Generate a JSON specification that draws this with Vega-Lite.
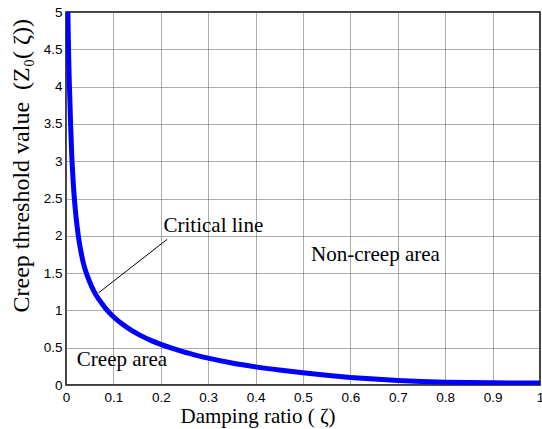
{
  "$schema": "https://vega.github.io/schema/vega-lite/v6.json",
  "width": 474,
  "height": 373,
  "autosize": {"type": "none"},
  "padding": {"left": 66, "top": 12, "right": 2, "bottom": 44},
  "background": "white",
  "config": {
    "view": {"stroke": "black", "strokeWidth": 1.5},
    "axis": {
      "domain": false,
      "grid": true,
      "gridColor": "#5a5a5a",
      "gridDash": [1, 1],
      "gridWidth": 1,
      "ticks": false,
      "labelFont": "Liberation Sans",
      "labelFontSize": 13.5,
      "labelColor": "black",
      "labelOverlap": false,
      "labelFlush": false,
      "titleFont": "Liberation Serif",
      "titleFontSize": 21,
      "titleFontWeight": "normal",
      "titleColor": "black"
    }
  },
  "datasets": {
    "curve": [
      {"zeta": 0.004, "z0": 5.0},
      {"zeta": 0.0045, "z0": 4.8},
      {"zeta": 0.005, "z0": 4.6},
      {"zeta": 0.006, "z0": 4.3},
      {"zeta": 0.007, "z0": 4.05},
      {"zeta": 0.008, "z0": 3.85},
      {"zeta": 0.009, "z0": 3.65},
      {"zeta": 0.01, "z0": 3.45},
      {"zeta": 0.012, "z0": 3.1},
      {"zeta": 0.014, "z0": 2.85},
      {"zeta": 0.017, "z0": 2.55},
      {"zeta": 0.02, "z0": 2.33},
      {"zeta": 0.023, "z0": 2.15},
      {"zeta": 0.026, "z0": 2.0},
      {"zeta": 0.03, "z0": 1.84},
      {"zeta": 0.034, "z0": 1.71},
      {"zeta": 0.038, "z0": 1.6},
      {"zeta": 0.043, "z0": 1.5},
      {"zeta": 0.05, "z0": 1.38},
      {"zeta": 0.058, "z0": 1.27},
      {"zeta": 0.066, "z0": 1.18},
      {"zeta": 0.076, "z0": 1.09},
      {"zeta": 0.087, "z0": 1.0},
      {"zeta": 0.1, "z0": 0.915},
      {"zeta": 0.12, "z0": 0.81},
      {"zeta": 0.14, "z0": 0.725},
      {"zeta": 0.16, "z0": 0.655},
      {"zeta": 0.18, "z0": 0.595},
      {"zeta": 0.2, "z0": 0.545},
      {"zeta": 0.225, "z0": 0.49},
      {"zeta": 0.25, "z0": 0.44},
      {"zeta": 0.275, "z0": 0.398},
      {"zeta": 0.3, "z0": 0.36},
      {"zeta": 0.35, "z0": 0.295},
      {"zeta": 0.4, "z0": 0.243},
      {"zeta": 0.45, "z0": 0.2},
      {"zeta": 0.5, "z0": 0.163},
      {"zeta": 0.55, "z0": 0.13},
      {"zeta": 0.6, "z0": 0.102},
      {"zeta": 0.65, "z0": 0.079},
      {"zeta": 0.7, "z0": 0.06},
      {"zeta": 0.75, "z0": 0.047},
      {"zeta": 0.8, "z0": 0.038},
      {"zeta": 0.85, "z0": 0.032},
      {"zeta": 0.9, "z0": 0.029},
      {"zeta": 0.95, "z0": 0.027},
      {"zeta": 1.0, "z0": 0.026}
    ],
    "pointer": [
      {"zeta": 0.069, "z0": 1.237, "zeta_end": 0.2135, "z0_end": 1.953}
    ],
    "labels": [
      {"zeta": 0.2057, "z0": 2.055, "label": "Critical line"},
      {"zeta": 0.517, "z0": 1.666, "label": "Non-creep area"},
      {"zeta": 0.0228, "z0": 0.255, "label": "Creep area"}
    ]
  },
  "encoding": {
    "x": {
      "field": "zeta", "type": "quantitative",
      "scale": {"domain": [0, 1], "nice": false},
      "axis": {"values": [0, 0.1, 0.2, 0.3, 0.4, 0.5, 0.6, 0.7, 0.8, 0.9, 1], "format": "~g", "labelOverlap": false, "labelFlush": false, "labelBound": false, "labelPadding": 5, "title": "Damping ratio ( ζ)", "titleX": 114, "titleAlign": "left", "titleY": 37, "titleBaseline": "alphabetic"}
    },
    "y": {
      "field": "z0", "type": "quantitative",
      "scale": {"domain": [0, 5], "nice": false},
      "axis": {"values": [0, 0.5, 1, 1.5, 2, 2.5, 3, 3.5, 4, 4.5, 5], "labelExpr": "format(datum.value, '~g')", "labelOverlap": false, "labelFlush": false, "labelBound": false, "labelPadding": 4, "title": "Creep threshold value\u00a0\u00a0(Z₀(\u00a0ζ))", "titleFontSize": 24, "titleX": -38, "titleY": 300, "titleAlign": "left", "titleAngle": -90, "titleBaseline": "alphabetic"}
    }
  },
  "layer": [
    {
      "data": {"name": "curve"},
      "mark": {"type": "line", "color": "#0000ff", "strokeWidth": 5, "interpolate": "monotone", "clip": true}
    },
    {
      "data": {"name": "pointer"},
      "mark": {"type": "rule", "color": "black", "strokeWidth": 1},
      "encoding": {
        "x2": {"field": "zeta_end"},
        "y2": {"field": "z0_end"}
      }
    },
    {
      "data": {"name": "labels"},
      "mark": {"type": "text", "font": "Liberation Serif", "fontSize": 21, "align": "left", "baseline": "alphabetic", "color": "black"},
      "encoding": {
        "text": {"field": "label"}
      }
    }
  ]
}
